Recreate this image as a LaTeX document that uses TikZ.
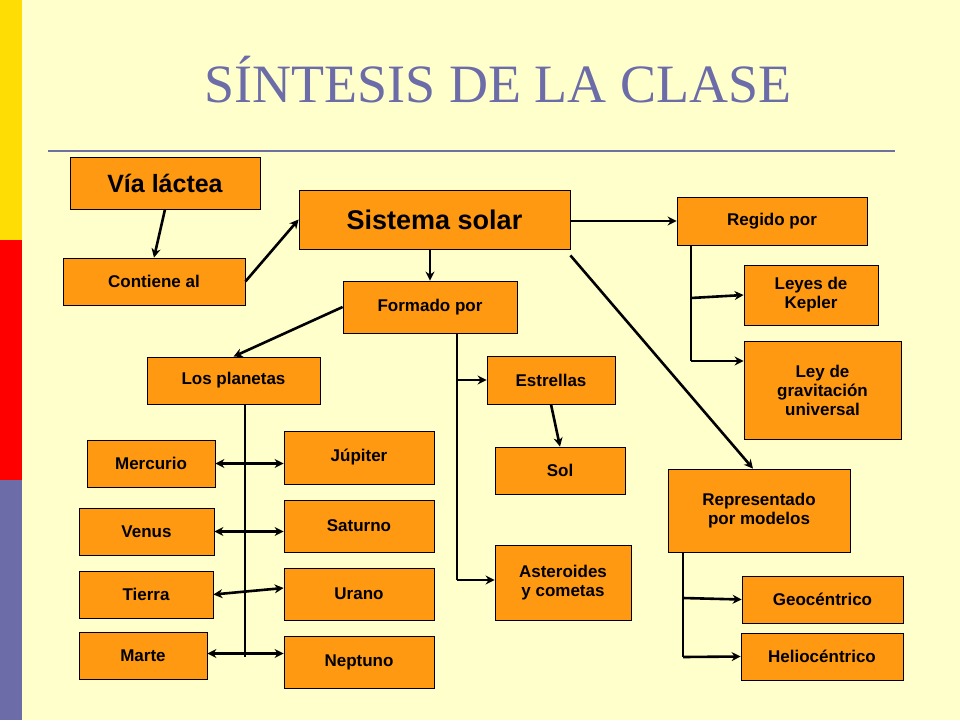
\documentclass[tikz,border=0pt]{standalone}
\usepackage{fontspec}
\setmainfont{Liberation Sans}
\newfontfamily\titlefont{Liberation Serif}
\usetikzlibrary{arrows.meta}
\definecolor{bg}{HTML}{FFFFCC}
\definecolor{org}{HTML}{FF9912}
\definecolor{ttl}{HTML}{6C6CA8}
\tikzset{
 bx/.style={draw=black,line width=0.8pt,fill=org,font=\bfseries\fontsize{17}{19}\selectfont,align=center,inner sep=0pt},
 ar/.style={line width=2.6pt,-{Stealth[length=9pt,width=9pt]}},
 da/.style={line width=2.6pt,{Stealth[length=9pt,width=9pt]}-{Stealth[length=9pt,width=9pt]}},
 ln/.style={line width=2.6pt}
}
\newcommand{\bxat}[6]{\node[bx,minimum width={(#4-#2)*1pt},minimum height={(#5-#3)*1pt},#6] (#1) at ({(#2+#4)/2},{(#3+#5)/2})}
\begin{document}
\begin{tikzpicture}[x=1pt,y=-1pt]
\fill[bg] (0,0) rectangle (960,720);
\useasboundingbox (0,0) rectangle (960,720);
\fill[yellow!80!orange] (0,0) rectangle (22,240);
\fill[red] (0,240) rectangle (22,480);
\fill[ttl] (0,480) rectangle (22,720);
\node[text=ttl,font=\titlefont\fontsize{54}{60}\selectfont] (title) at (498,80) {SÍNTESIS DE LA CLASE};
\draw[ttl!80!gray,line width=2pt] (48,151) -- (895,151);
\bxat{via}{70}{157}{260}{209}{font=\bfseries\fontsize{25}{28}\selectfont}{Vía láctea};
\bxat{cont}{63}{258}{245}{305}{}{Contiene al};
\bxat{sis}{299}{190}{570}{249}{font=\bfseries\fontsize{27}{30}\selectfont}{Sistema solar};
\bxat{reg}{677}{197}{867}{245}{}{Regido por};
\bxat{form}{343}{281}{517}{333}{}{Formado por};
\bxat{kep}{744}{265}{878}{325}{}{Leyes de\\Kepler};
\bxat{grav}{744}{341}{901}{439}{}{Ley de\\gravitación\\universal};
\bxat{plan}{147}{357}{320}{404}{}{Los planetas};
\bxat{est}{487}{356}{615}{404}{}{Estrellas};
\bxat{mer}{87}{440}{215}{487}{}{Mercurio};
\bxat{jup}{284}{431}{434}{484}{}{Júpiter};
\bxat{sol}{495}{447}{625}{494}{}{Sol};
\bxat{rep}{668}{469}{850}{552}{}{Representado\\por modelos};
\bxat{ven}{79}{508}{214}{555}{}{Venus};
\bxat{sat}{284}{500}{434}{552}{}{Saturno};
\bxat{tie}{79}{571}{213}{618}{}{Tierra};
\bxat{ura}{284}{568}{434}{620}{}{Urano};
\bxat{ast}{495}{545}{631}{620}{}{Asteroides\\y cometas};
\bxat{geo}{742}{576}{903}{623}{}{Geocéntrico};
\bxat{mar}{79}{632}{207}{679}{}{Marte};
\bxat{nep}{284}{636}{434}{688}{}{Neptuno};
\bxat{hel}{741}{633}{903}{680}{}{Heliocéntrico};
% connectors
\draw[ar] (via.south) -- (cont.north);
\draw[ar] (cont.east) -- (sis.west);
\draw[ar] (sis.east|-reg.west) -- (reg.west);
\draw[ar] (sis.south-|form.north) -- (form.north);
\draw[ar] ([yshift=-6pt]sis.south east) -- ([xshift=-6pt]rep.north);
\draw[ar] (form.west) -- (plan.north);
\coordinate (fA) at (457,333);
\coordinate (fB) at (457,580);
\draw[ln] (fA) -- (fB);
\draw[ar] (fA|-est.west) -- (est.west);
\draw[ar] (fB) -- (fB-|ast.west);
\draw[ar] (est.south) -- (sol.north);
\coordinate (rA) at (691,245);
\coordinate (rB) at (691,361);
\draw[ln] (rA) -- (rB);
\draw[ar] (691,298) -- (kep.west);
\draw[ar] (rB) -- (rB-|grav.west);
\coordinate (pA) at (245,404);
\coordinate (pB) at (245,657);
\draw[ln] (pA) -- (pB);
\draw[da] (mer.east) -- (mer.east-|jup.west);
\draw[da] (ven.east) -- (ven.east-|sat.west);
\draw[da] (tie.east) -- ([yshift=6pt]ura.west);
\draw[da] ([yshift=2pt]mar.east) -- ([yshift=2pt]mar.east-|nep.west);
\coordinate (mA) at (683,552);
\coordinate (mB) at (683,657);
\draw[ln] (mA) -- (mB);
\draw[ar] (683,598) -- (geo.west);
\draw[ar] (mB) -- (hel.west);
\end{tikzpicture}
\end{document}
